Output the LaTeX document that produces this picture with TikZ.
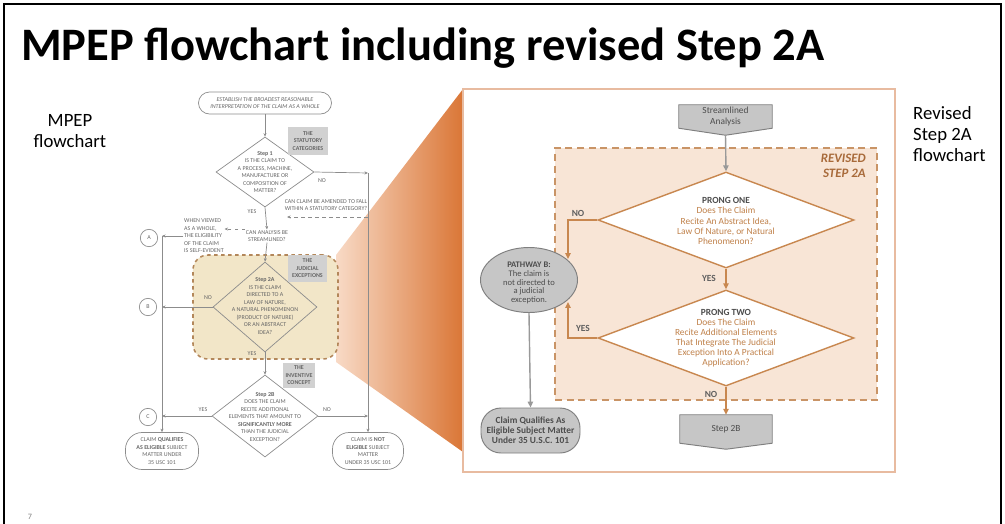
\documentclass[tikz,border=0pt]{standalone}
\usepackage{fontspec}
\setmainfont{Carlito}
\usetikzlibrary{arrows.meta,shapes.geometric,positioning,calc}

\definecolor{scanline}{HTML}{8C8C8C}
\definecolor{scantext}{HTML}{666666}
\definecolor{judfill}{HTML}{F2E6C8}
\definecolor{juddash}{HTML}{B3875A}
\definecolor{fanl}{HTML}{F8DAC6}
\definecolor{fanr}{HTML}{DA7636}
\definecolor{panelline}{HTML}{E8BBA0}
\definecolor{revfill}{HTML}{F8E5D6}
\definecolor{revdash}{HTML}{C99466}
\definecolor{revtext}{HTML}{A86A3A}
\definecolor{orangeline}{HTML}{C8874F}
\definecolor{orangetext}{HTML}{C0814A}
\definecolor{darktext}{HTML}{4D4D4D}
\definecolor{grayfill}{HTML}{C6C6C6}
\definecolor{grayline}{HTML}{7F7F7F}

\newcommand\scanfont{\fontsize{5.1}{6.4}\selectfont\color{scantext}}

\tikzset{
  sln/.style={draw=scanline, line width=0.6pt},
  sarr/.style={sln, -{Stealth[length=3pt,width=2.6pt]}},
  stxt/.style={font=\scanfont, align=center, inner sep=0.5pt},
  slab/.style={font=\scanfont, inner sep=0.5pt},
  dia/.style={diamond, draw=scanline, line width=0.6pt, inner sep=0pt},
  term/.style={draw=scanline, line width=0.6pt, font=\scanfont, align=center, inner sep=0pt},
  gbox/.style={fill=grayfill!80, font=\scanfont\bfseries, align=center, inner sep=0pt},
  circ/.style={circle, draw=scanline, line width=0.6pt, minimum size=0.52cm, inner sep=0pt, font=\scanfont},
  oln/.style={draw=orangeline, line width=1.2pt},
  oarr/.style={oln, -{Triangle[length=5pt,width=4.5pt]}},
  garr/.style={draw=grayline!80, line width=1.2pt, -{Triangle[length=5pt,width=4.5pt]}},
  odia/.style={diamond, draw=orangeline, line width=1.2pt, fill=white, inner sep=0pt},
  otxt/.style={font=\fontsize{8}{8.6}\selectfont, text=orangetext, align=center, inner sep=0pt},
  olab/.style={font=\fontsize{8}{8}\selectfont\bfseries, text=darktext!90, inner sep=0pt},
  gshape/.style={draw=grayline, line width=0.8pt, fill=grayfill},
  gtxt/.style={font=\fontsize{8}{8.6}\selectfont, text=darktext, align=center, inner sep=0pt},
  bigtxt/.style={font=\fontsize{16}{18}\selectfont, align=center, inner sep=0pt}
}

\begin{document}
\begin{tikzpicture}[x=0.03cm, y=-0.03cm]
  \useasboundingbox (0,0) rectangle (1005,523);
  % slide frame and title
  \draw[line width=2.2pt] (4,530) -- (4,4) -- (1001,4) -- (1001,530);
  \node[anchor=west, inner sep=0pt, font=\bfseries\fontsize{39.7}{40}\selectfont] (ttl) at (21,48) {MPEP flowchart including revised Step 2A};
  \node[bigtxt] (lt) at (70,131) {MPEP\\flowchart};
  \node[bigtxt, align=left, anchor=west] (rt) at (913,134) {Revised\\Step 2A\\flowchart};
  \node[font=\fontsize{7}{7}\selectfont, text=gray] (pg) at (30,517) {7};

  % zoom fan
  \shade[left color=fanl, right color=fanr] (336,255) -- (463,89) -- (463,452) -- (336,362) -- cycle;

  % MPEP flowchart
  \node[term, minimum width=3.99cm, minimum height=0.66cm, rounded corners=0.33cm] (est) at (265,103)
    {\itshape ESTABLISH THE BROADEST REASONABLE\\\itshape INTERPRETATION OF THE CLAIM AS A WHOLE};
  \node[dia, minimum width=2.94cm, minimum height=2.1cm] (s1) at (265,172) {};
  \node[stxt] at (s1) {\textbf{Step 1}\\IS THE CLAIM TO\\A PROCESS, MACHINE,\\MANUFACTURE OR\\COMPOSITION OF\\MATTER?};
  \draw[sarr] (est) -- (s1);
  \node[gbox, minimum width=1.2cm, minimum height=0.84cm] (cat) at (308,141) {THE\\STATUTORY\\CATEGORIES};
  \coordinate (nr) at (368,173);
  \draw[sarr] (s1.east) -- (nr);
  \node[slab] at (322,181) {NO};
  \node[stxt] (amd) at (326,205) {CAN CLAIM BE AMENDED TO FALL\\WITHIN A STATUTORY CATEGORY?};
  \coordinate (ams) at (368,217);
  \coordinate (amt) at (287,217);
  \draw[sarr, dashed] (ams) -- (amt);
  \node[slab] at (252,212) {YES};
  \node[stxt] (cab) at (267,236) {CAN ANALYSIS BE\\STREAMLINED?};
  \draw[sarr] (s1.south) -- (cab.north);
  \node[stxt, align=left] (se) at (204,236) {WHEN VIEWED\\AS A WHOLE,\\THE ELIGIBILITY\\OF THE CLAIM\\IS SELF-EVIDENT};
  \draw[sarr, dashed] ($(cab.west)+(0,-7)$) -- ($(se.east)+(0,-7)$);
  \coordinate (la) at (162,236);
  \draw[sarr] (se.west) -- (la);
  \node[circ] (ca) at (149,238) {A};
  \node[circ] (cb) at (148,307) {B};
  \node[circ] (cc) at (148,417) {C};

  % judicial exceptions
  \node[draw=juddash, fill=judfill, dashed, line width=1.3pt, rounded corners=0.45cm,
    minimum width=4.35cm, minimum height=3.12cm] (jb) at (265.5,307) {};
  \node[dia, minimum width=3.12cm, minimum height=2.7cm] (s2a) at (265,307) {};
  \node[stxt] at (265,306) {\textbf{Step 2A}\\IS THE CLAIM\\DIRECTED TO A\\LAW OF NATURE,\\A NATURAL PHENOMENON\\(PRODUCT OF NATURE)\\OR AN ABSTRACT\\IDEA?};
  \node[gbox, minimum width=1.17cm, minimum height=0.81cm] (jud) at (307.5,268.5) {THE\\JUDICIAL\\EXCEPTIONS};
  \draw[sarr] (cab.south) -- (s2a.north);
  \coordinate (lb) at (162,307);
  \draw[sarr] (s2a.west) -- (lb);
  \node[slab] at (208,298) {NO};
  \node[slab] at (252,354) {YES};

  % step 2B
  \node[dia, minimum width=3.18cm, minimum height=2.46cm] (s2b) at (265,416) {};
  \node[stxt] at (265,417) {\textbf{Step 2B}\\DOES THE CLAIM\\RECITE ADDITIONAL\\ELEMENTS THAT AMOUNT TO\\\textbf{SIGNIFICANTLY MORE}\\THAN THE JUDICIAL\\EXCEPTION?};
  \draw[sarr] (s2a.south) -- (s2b.north);
  \node[gbox, minimum width=0.96cm, minimum height=0.75cm] (inv) at (299,375.5) {THE\\INVENTIVE\\CONCEPT};
  \coordinate (lc) at (162,416);
  \coordinate (rc) at (368,416);
  \draw[sarr] (s2b.west) -- (lc);
  \draw[sarr] (s2b.east) -- (rc);
  \node[slab] at (203,410) {YES};
  \node[slab] at (327,410) {NO};
  \node[term, minimum width=2.19cm, minimum height=1.11cm, rounded corners=0.5cm] (cq) at (162,451)
    {CLAIM \textbf{QUALIFIES}\\\textbf{AS ELIGIBLE} SUBJECT\\MATTER UNDER\\35 USC 101};
  \node[term, minimum width=2.13cm, minimum height=1.11cm, rounded corners=0.5cm] (noe) at (368,451)
    {CLAIM IS \textbf{NOT}\\\textbf{ELIGIBLE} SUBJECT\\MATTER\\UNDER 35 USC 101};
  \draw[sarr] (la) -- (cq.north);
  \draw[sarr] (nr) -- (noe.north);

  % revised step 2A panel
  \node[draw=panelline, line width=1.2pt, fill=white, minimum width=12.96cm, minimum height=11.49cm, inner sep=0pt] (pan) at (679,280.5) {};
  \node[draw=revdash, fill=revfill, line width=1.3pt, dash pattern=on 6pt off 4pt,
    minimum width=9.66cm, minimum height=7.56cm, inner sep=0pt] (rev) at (716,274) {};
  \node[anchor=north east, align=right, inner sep=0pt, text=revtext, font=\fontsize{11}{12.5}\selectfont\bfseries\itshape] (revt) at (866,154) {REVISED\\STEP 2A};

  \node[minimum width=2.79cm, minimum height=0.69cm, inner sep=0pt] (sa) at (725.5,116.5) {};
  \coordinate (sap) at ($(sa.south)+(0,7)$);
  \draw[gshape] (sa.north west) -- (sa.north east) -- (sa.south east) -- (sap) -- (sa.south west) -- cycle;
  \node[gtxt] at (sa) {Streamlined\\Analysis};

  \node[odia, minimum width=7.68cm, minimum height=2.88cm] (p1) at (726,220) {};
  \node[otxt] at (726,221) {\textbf{\color{darktext}PRONG ONE}\\Does The Claim\\Recite An Abstract Idea,\\Law Of Nature, or Natural\\Phenomenon?};
  \draw[garr] (sap) -- (p1.north);

  \node[odia, minimum width=7.68cm, minimum height=2.88cm] (p2) at (726,338) {};
  \node[otxt] at (726,338) {\textbf{\color{darktext}PRONG TWO}\\Does The Claim\\Recite Additional Elements\\That Integrate The Judicial\\Exception Into A Practical\\Application?};
  \draw[oarr] (p1.south) -- (p2.north);
  \node[olab] at (709,278) {YES};

  \node[ellipse, draw=grayline, line width=0.8pt, fill=grayfill, minimum width=2.91cm, minimum height=1.95cm, inner sep=0pt] (pw) at (529,280) {};
  \node[gtxt, font=\fontsize{7.3}{7.6}\selectfont] at (529,283) {\textbf{PATHWAY B:}\\The claim is\\not directed to\\a judicial\\exception.};
  \coordinate (nb) at (568,259);
  \coordinate (yb) at (568,302);
  \draw[oarr] (p1.west) -| (nb);
  \node[olab] at (578,213) {NO};
  \draw[oarr] (p2.west) -| (yb);
  \node[olab] at (583,328) {YES};

  \node[minimum width=2.76cm, minimum height=0.84cm, inner sep=0pt] (sb) at (726,429) {};
  \coordinate (sbp) at ($(sb.south)+(0,6)$);
  \draw[gshape] (sb.north west) -- (sb.north east) -- (sb.south east) -- (sbp) -- (sb.south west) -- cycle;
  \node[gtxt] at (sb) {Step 2B};
  \draw[oarr] (p2.south) -- (sb.north);
  \node[olab] at (711,394) {NO};

  \node[gshape, gtxt, font=\fontsize{8}{8.6}\selectfont\bfseries, rounded corners=0.6cm,
    minimum width=2.97cm, minimum height=1.35cm] (cq2) at (530.5,430.5) {Claim Qualifies As\\Eligible Subject Matter\\Under 35 U.S.C. 101};
  \draw[garr] (pw.south) -- (cq2.north);
\end{tikzpicture}
\end{document}
